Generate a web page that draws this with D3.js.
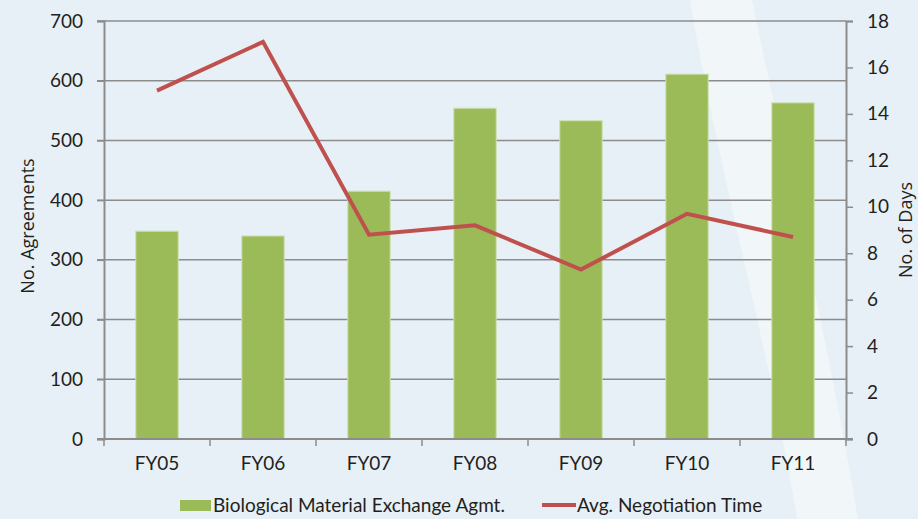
<!DOCTYPE html>
<html><head><meta charset="utf-8">
<script src="https://cdn.jsdelivr.net/npm/d3@7"></script>
<style>body{margin:0;background:#e7f0f6;}svg{display:block;font-family:Lato,"Open Sans",sans-serif;}</style>
</head><body>
<svg id="c" width="918" height="519"></svg>
<script>
const categories = ["FY05","FY06","FY07","FY08","FY09","FY10","FY11"];
const agreements = [348, 340, 415, 554, 533, 611, 563];
const negotiationDays = [15.0, 17.1, 8.8, 9.2, 7.3, 9.7, 8.7];
const leftTicks = [0,100,200,300,400,500,600,700];
const rightTicks = [0,2,4,6,8,10,12,14,16,18];

const svg = d3.select("#c");
const W = 918, H = 519;
const m = {l:104, r:846, t:21, b:439};

// background
svg.append("rect").attr("width",W).attr("height",H).attr("fill","#e7f0f6");
svg.append("path").attr("d","M690,0 L752,0 C790,180 830,350 858,519 L797,519 C770,350 720,180 690,0 Z").attr("fill","#f1f6f9");

const x = d3.scaleBand().domain(categories).range([m.l,m.r]).paddingInner(0.6).paddingOuter(0.3);
const xb = d3.scaleBand().domain(categories).range([m.l,m.r]);
const yL = d3.scaleLinear().domain([0,700]).range([m.b,m.t]);
const yR = d3.scaleLinear().domain([0,18]).range([m.b,m.t]);

// gridlines
svg.append("g").selectAll("line").data(leftTicks.filter(d=>d>0)).join("line")
  .attr("x1",m.l-7).attr("x2",m.r).attr("y1",d=>yL(d)).attr("y2",d=>yL(d))
  .attr("stroke","#8c8c8c").attr("stroke-width",1.5);

// bars
svg.append("g").selectAll("rect").data(agreements).join("rect")
  .attr("x",(d,i)=>x(categories[i])).attr("width",x.bandwidth())
  .attr("y",d=>yL(d)).attr("height",d=>m.b-yL(d))
  .attr("fill","#9bbb59").attr("stroke","#cfe0b0").attr("stroke-width",1);

// axes
const gL = svg.append("g").attr("transform",`translate(${m.l},0)`)
  .call(d3.axisLeft(yL).tickValues(leftTicks).tickSize(7).tickPadding(14));
const gR = svg.append("g").attr("transform",`translate(${m.r},0)`)
  .call(d3.axisRight(yR).tickValues(rightTicks).tickSize(7).tickPadding(14));
const gB = svg.append("g").attr("transform",`translate(0,${m.b})`)
  .call(d3.axisBottom(xb).tickSize(0).tickPadding(18));
[gL,gR,gB].forEach(g=>{
  g.select(".domain").attr("stroke","#8c8c8c").attr("stroke-width",2);
  g.selectAll(".tick line").attr("stroke","#8c8c8c").attr("stroke-width",1.5);
  g.selectAll("text").attr("fill","#231f20").attr("font-size",19).attr("font-family","Lato,'Open Sans',sans-serif");
});
gB.select(".domain").attr("d",`M${m.l-7},0H${m.r+7}`);
// category boundary ticks
svg.append("g").selectAll("line").data(d3.range(categories.length+1)).join("line")
  .attr("x1",i=>m.l+i*xb.step()).attr("x2",i=>m.l+i*xb.step())
  .attr("y1",m.b).attr("y2",m.b+7).attr("stroke","#8c8c8c").attr("stroke-width",1.5);

// line
const line = d3.line().x((d,i)=>xb(categories[i])+xb.bandwidth()/2).y(d=>yR(d));
svg.append("path").datum(negotiationDays).attr("d",line)
  .attr("fill","none").attr("stroke","#c0504d").attr("stroke-width",4).attr("stroke-linejoin","miter");

// axis titles
svg.append("text").attr("transform",`translate(34,226) rotate(-90)`)
  .attr("text-anchor","middle").attr("font-size",18).attr("font-family","'Open Sans',sans-serif").attr("fill","#231f20").text("No. Agreements");
svg.append("text").attr("transform",`translate(912,230) rotate(-90)`)
  .attr("text-anchor","middle").attr("font-size",18).attr("font-family","'Open Sans',sans-serif").attr("fill","#231f20").text("No. of Days");

// legend
const lg = svg.append("g");
lg.append("rect").attr("x",180).attr("y",500).attr("width",31).attr("height",11).attr("fill","#9bbb59");
lg.append("text").attr("x",213).attr("y",512).attr("font-size",19).attr("fill","#231f20").text("Biological Material Exchange Agmt.");
lg.append("line").attr("x1",542).attr("x2",576).attr("y1",505).attr("y2",505).attr("stroke","#c0504d").attr("stroke-width",4);
lg.append("text").attr("x",577).attr("y",512).attr("font-size",19).attr("fill","#231f20").text("Avg. Negotiation Time");
</script>
</body></html>
